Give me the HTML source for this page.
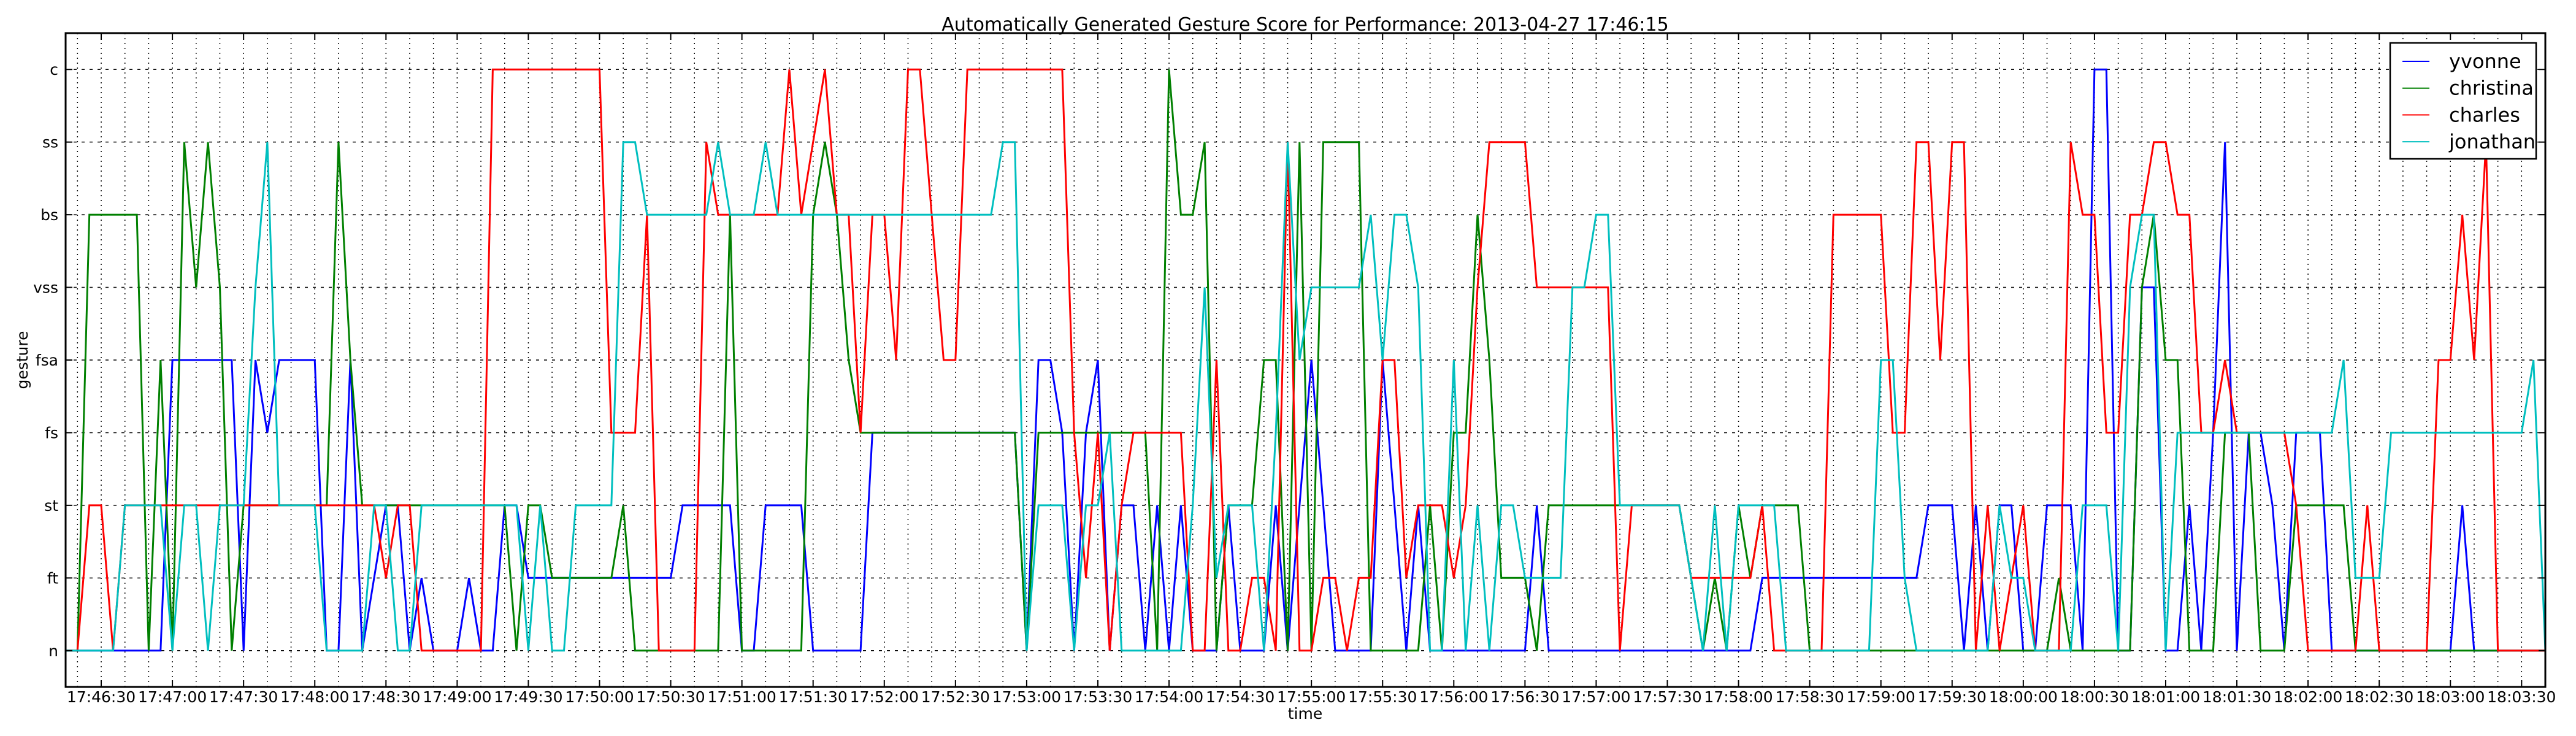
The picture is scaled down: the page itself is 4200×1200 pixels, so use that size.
<!DOCTYPE html>
<html><head><meta charset="utf-8"><style>
html,body{margin:0;padding:0;background:#fff;}
svg{display:block;font-family:"DejaVu Sans","Liberation Sans",sans-serif;}
</style></head><body>
<svg id="chart" width="4200" height="1200" viewBox="0 0 4200 1200" xmlns="http://www.w3.org/2000/svg">
<rect width="4200" height="1200" fill="#fff"/>
<text x="2128" y="50" font-size="30" text-anchor="middle">Automatically Generated Gesture Score for Performance: 2013-04-27 17:46:15</text>
<text x="2128" y="1172" font-size="25" text-anchor="middle">time</text>
<text x="0" y="0" font-size="25" text-anchor="middle" transform="translate(45,587) rotate(-90)">gesture</text>
<g id="grid"></g>
<g id="series"></g>
<g id="axes"></g>
<g id="legend"></g>
</svg>
<script>
const categories = ["n","ft","st","fs","fsa","vss","bs","ss","c"];
const startSeconds = 17*3600+46*60+15;
const stepSeconds = 5;
const seriesNames = ["yvonne","christina","charles","jonathan"];
const seriesColors = ["#0000ff","#008000","#ff0000","#00bfbf"];
const yvonne = [
0,0,0,0,0,0,0,0,0,4, 4,4,4,4,4,0,4,3,4,4, 4,4,0,0,4,0,1,2,2,0, 1,0,0,0,1,0,0,2,2,1,
1,1,1,1,1,1,1,1,1,1, 1,1,2,2,2,2,2,0,0,2, 2,2,2,0,0,0,0,0,3,3, 3,3,3,3,3,3,3,3,3,3,
3,0,4,4,3,0,3,4,0,2, 2,0,2,0,2,0,0,0,2,0, 0,0,2,0,2,4,2,0,0,0, 0,4,2,0,2,0,0,0,0,0,
0,0,0,0,2,0,0,0,0,0, 0,0,0,0,0,0,0,0,0,0, 0,0,0,1,1,1,1,1,1,1, 1,1,1,1,1,1,1,2,2,2,
0,2,0,2,2,0,0,2,2,2, 0,8,8,0,0,5,5,0,0,2, 0,3,7,0,3,3,2,0,3,3, 3,0,0,0,0,0,0,0,0,0,
0,0,2,0,0,0,0,0,0,0];
const christina = [
0,0,6,6,6,6,6,0,4,0, 7,5,7,5,0,2,2,2,2,2, 2,2,2,7,4,2,2,2,2,2, 2,2,2,2,2,2,2,2,0,2,
2,1,1,1,1,1,1,2,0,0, 0,0,0,0,0,0,6,0,0,0, 0,0,0,6,7,6,4,3,3,3, 3,3,3,3,3,3,3,3,3,3,
3,0,3,3,3,3,3,3,3,3, 3,3,0,8,6,6,7,0,2,2, 2,4,4,0,7,0,7,7,7,7, 0,0,0,0,0,2,0,3,3,6,
4,1,1,1,0,2,2,2,2,2, 2,2,2,2,2,2,2,1,0,1, 0,2,1,2,2,2,2,0,0,0, 0,0,0,0,0,0,0,0,0,0,
0,0,0,0,0,0,0,0,1,0, 0,0,0,0,0,5,6,4,4,0, 0,0,3,3,3,0,0,0,2,2, 2,2,2,0,0,0,0,0,0,0,
0,0,0,0,0,0,0,0,0,0];
const charles = [
0,0,2,2,0,2,2,2,2,2, 2,2,2,2,2,2,2,2,2,2, 2,2,2,2,2,2,2,1,2,2, 0,0,0,0,0,0,8,8,8,8,
8,8,8,8,8,8,3,3,3,6, 0,0,0,0,7,6,6,6,6,6, 6,8,6,7,8,6,6,3,6,6, 4,8,8,6,4,4,8,8,8,8,
8,8,8,8,8,3,1,3,0,2, 3,3,3,3,3,0,0,4,0,0, 1,1,0,7,0,0,1,1,0,1, 1,4,4,1,2,2,2,1,2,5,
7,7,7,7,5,5,5,5,5,5, 5,0,2,2,2,2,2,1,1,1, 1,1,1,2,0,0,0,0,0,6, 6,6,6,6,3,3,7,7,4,7,
7,0,2,0,1,2,0,0,0,7, 6,6,3,3,6,6,7,7,6,6, 3,3,4,3,3,3,3,3,2,0, 0,0,0,0,2,0,0,0,0,0,
4,4,6,4,7,0,0,0,0,0];
const jonathan = [
0,0,0,0,0,2,2,2,2,0, 2,2,0,2,2,2,5,7,2,2, 2,2,0,0,0,0,2,2,0,0, 2,2,2,2,2,2,2,2,2,0,
2,0,0,2,2,2,2,7,7,6, 6,6,6,6,6,7,6,6,6,7, 6,6,6,6,6,6,6,6,6,6, 6,6,6,6,6,6,6,6,6,7,
7,0,2,2,2,0,2,2,3,0, 0,0,0,0,0,2,5,1,2,2, 2,0,3,7,4,5,5,5,5,5, 6,4,6,6,5,0,0,4,0,2,
0,2,2,1,1,1,1,5,5,6, 6,2,2,2,2,2,2,1,0,2, 0,2,2,2,2,0,0,0,0,0, 0,0,0,4,4,1,0,0,0,0,
0,0,0,2,1,1,0,0,0,0, 2,2,2,0,5,6,6,0,3,3, 3,3,3,3,3,3,3,3,3,3, 3,3,4,1,1,1,3,3,3,3,
3,3,3,3,3,3,3,3,4,0];
const xTickLabels = ["17:46:30","17:47:00","17:47:30","17:48:00","17:48:30","17:49:00","17:49:30","17:50:00","17:50:30","17:51:00","17:51:30","17:52:00","17:52:30","17:53:00","17:53:30","17:54:00","17:54:30","17:55:00","17:55:30","17:56:00","17:56:30","17:57:00","17:57:30","17:58:00","17:58:30","17:59:00","17:59:30","18:00:00","18:00:30","18:01:00","18:01:30","18:02:00","18:02:30","18:03:00","18:03:30"];

const NS="http://www.w3.org/2000/svg";
const L=107, R=4150, T=54, B=1120;
const nSteps = yvonne.length-1;
function xs(i){ return L + (R-L)*i/nSteps; }
function xt(sec){ return xs((sec-startSeconds)/stepSeconds); }
function ys(v){ return B - (v+0.5)*(B-T)/categories.length; }
function parseT(s){ const p=s.split(":").map(Number); return p[0]*3600+p[1]*60+p[2]; }
function mk(tag, attrs, parent){ const e=document.createElementNS(NS,tag); for(const k in attrs) e.setAttribute(k,attrs[k]); parent.appendChild(e); return e; }

const grid=document.getElementById('grid');
const axes=document.getElementById('axes');
for(let s=startSeconds+5; s<=startSeconds+nSteps*stepSeconds; s+=10){
  const x=xt(s);
  const g=mk('line',{x1:x,x2:x,y1:T,y2:B,stroke:'#000','stroke-width':1.5,'stroke-dasharray':'2,6'},grid);
  
  
}
categories.forEach((c,i)=>{
  const y=ys(i);
  const g=mk('line',{x1:L,x2:R,y1:y,y2:y,stroke:'#000','stroke-width':1.5,'stroke-dasharray':'5,8'},grid);
  
  
  const t=mk('text',{x:L-12,y:y+9,'font-size':25,'text-anchor':'end'},axes);
  t.textContent=c;
  
  
  const tk1=mk('line',{x1:L,x2:L+11,y1:y,y2:y,stroke:'#000','stroke-width':2},axes);
  
  
  const tk2=mk('line',{x1:R-11,x2:R,y1:y,y2:y,stroke:'#000','stroke-width':2},axes);
  
  
});
xTickLabels.forEach(lab=>{
  const x=xt(parseT(lab));
  const t=mk('text',{x:x,y:1145,'font-size':25,'text-anchor':'middle'},axes);
  t.textContent=lab;
  
  
  const tk1=mk('line',{x1:x,x2:x,y1:B,y2:B-11,stroke:'#000','stroke-width':2},axes);
  
  
  const tk2=mk('line',{x1:x,x2:x,y1:T,y2:T+11,stroke:'#000','stroke-width':2},axes);
  
  
});

const seriesData=[yvonne,christina,charles,jonathan];
const sg=document.getElementById('series');
seriesData.forEach((arr,k)=>{
  const pts=arr.map((v,i)=>xs(i).toFixed(1)+','+ys(v).toFixed(1)).join(' ');
  const p=mk('polyline',{points:pts,fill:'none',stroke:seriesColors[k],'stroke-width':3,'stroke-linejoin':'miter'},sg);
  
  
});
const frame=mk('rect',{x:L,y:T,width:R-L,height:B-T,fill:'none',stroke:'#000','stroke-width':3},axes);



const lg=document.getElementById('legend');
const box=mk('rect',{x:3897,y:70,width:238,height:189,fill:'#fff',stroke:'#000','stroke-width':2.5},lg);


seriesNames.forEach((n,k)=>{
  const y=100+k*43.7;
  const ln=mk('line',{x1:3917,x2:3961,y1:y,y2:y,stroke:seriesColors[k],'stroke-width':2},lg);
  
  
  const t=mk('text',{x:3993,y:y+11,'font-size':32},lg);
  t.textContent=n;
  
  
});
</script>
</body></html>
